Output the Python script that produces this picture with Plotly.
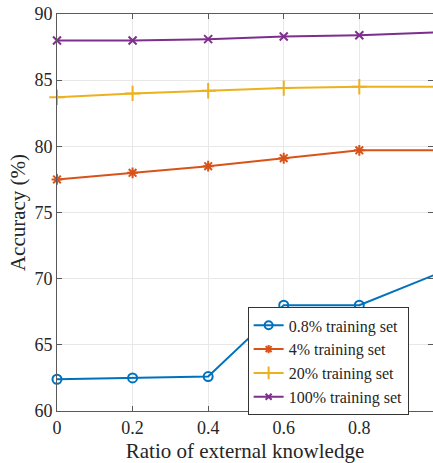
import plotly.graph_objects as go

ratios = [0, 0.2, 0.4, 0.6, 0.8, 1.0]
acc_08 = [62.4, 62.5, 62.6, 68.0, 68.0, 70.3]
acc_4 = [77.5, 78.0, 78.5, 79.1, 79.7, 79.7]
acc_20 = [83.7, 84.0, 84.2, 84.4, 84.5, 84.5]
acc_100 = [88.0, 88.0, 88.1, 88.3, 88.4, 88.6]
names = ["0.8% training set", "4% training set", "20% training set", "100% training set"]
x_ticks = [0, 0.2, 0.4, 0.6, 0.8]
x_ticklabels = ["0", "0.2", "0.4", "0.6", "0.8"]
y_ticks = [60, 65, 70, 75, 80, 85, 90]

colors = ["#0072BD", "#D95319", "#EDB120", "#7E2F8E"]
symbols = ["circle-open", "asterisk-open", "cross-thin-open", "x-thin-open"]
sizes = [9, 9, 11, 8]
leg_sizes = [8, 7, 9, 6]

FONT = "Liberation Serif"

fig = go.Figure()
for ys, name, c, s, sz in zip([acc_08, acc_4, acc_20, acc_100], names, colors, symbols, sizes):
    fig.add_trace(go.Scatter(
        x=ratios, y=ys, name=name, mode="lines+markers",
        line=dict(color=c, width=2),
        marker=dict(symbol=s, size=sz, color=c, line=dict(color=c, width=2)),
        cliponaxis=False, showlegend=False,
    ))
for name, c, s, sz in zip(names, colors, symbols, leg_sizes):
    fig.add_trace(go.Scatter(
        x=[None], y=[None], name=name, mode="lines+markers",
        line=dict(color=c, width=2),
        marker=dict(symbol=s, size=sz, color=c, line=dict(color=c, width=2)),
        showlegend=True,
    ))

axis_common = dict(
    showline=True, linecolor="#5a5a5a", linewidth=1, mirror="ticks",
    ticks="inside", ticklen=5, tickcolor="#5a5a5a",
    showgrid=True, gridcolor="#e8e8e8", gridwidth=1,
    zeroline=False, automargin=False, ticklabeloverflow="allow",
    tickfont=dict(family=FONT, size=18, color="#262626"),
)

fig.update_layout(
    width=433, height=463,
    margin=dict(l=57, r=0, t=14, b=52),
    paper_bgcolor="white", plot_bgcolor="white",
    font=dict(family=FONT, color="#262626"),
    showlegend=True,
    legend=dict(
        x=0.507, y=0.125, xanchor="left", yanchor="middle",
        bgcolor="white", bordercolor="#333333", borderwidth=1,
        font=dict(family=FONT, size=16, color="#262626"),
        tracegroupgap=0,
    ),
    xaxis=dict(
        range=[0, 0.995], tickvals=x_ticks, ticktext=x_ticklabels,
        title=dict(text="Ratio of external knowledge", font=dict(family=FONT, size=21, color="#262626"), standoff=6),
        **axis_common,
    ),
    yaxis=dict(
        range=[60, 90], tickvals=y_ticks,
        title=dict(text="Accuracy (%)", font=dict(family=FONT, size=21, color="#262626"), standoff=3),
        **axis_common,
    ),
)

fig.write_html("out.html", config={"displayModeBar": False},
               post_script="document.body.style.margin='0px';")
